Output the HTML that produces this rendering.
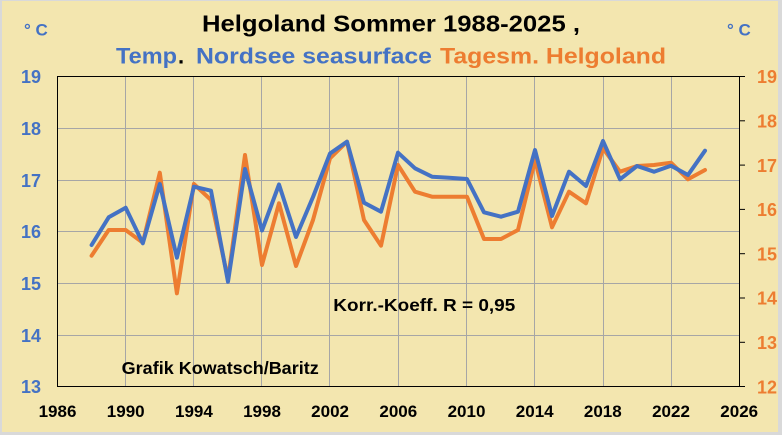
<!DOCTYPE html>
<html>
<head>
<meta charset="utf-8">
<style>
  html,body{margin:0;padding:0;background:#D9D9D9;}
  body{width:782px;height:435px;overflow:hidden;position:relative;}
  svg{position:absolute;left:0;top:0;}
  text{font-family:"Liberation Sans",Arial,sans-serif;font-weight:bold;}
</style>
</head>
<body>
<svg width="782" height="435" viewBox="0 0 782 435" xmlns="http://www.w3.org/2000/svg">
  <rect x="0" y="0" width="782" height="435" fill="#D9D9D9"/>
  <rect x="2" y="1" width="776" height="431" fill="#F3E6AF"/>

  <!-- gridlines -->
  <g stroke="#A6A6A6" stroke-width="1" fill="none">
    <line x1="58" y1="128.5" x2="739" y2="128.5"/>
    <line x1="58" y1="180.5" x2="739" y2="180.5"/>
    <line x1="58" y1="231.5" x2="739" y2="231.5"/>
    <line x1="58" y1="283.5" x2="739" y2="283.5"/>
    <line x1="58" y1="335.5" x2="739" y2="335.5"/>
    <line x1="125.5" y1="77" x2="125.5" y2="386"/>
    <line x1="193.5" y1="77" x2="193.5" y2="386"/>
    <line x1="261.5" y1="77" x2="261.5" y2="386"/>
    <line x1="329.5" y1="77" x2="329.5" y2="386"/>
    <line x1="398.5" y1="77" x2="398.5" y2="386"/>
    <line x1="466.5" y1="77" x2="466.5" y2="386"/>
    <line x1="534.5" y1="77" x2="534.5" y2="386"/>
    <line x1="603.5" y1="77" x2="603.5" y2="386"/>
    <line x1="671.5" y1="77" x2="671.5" y2="386"/>
  </g>

  <!-- plot border / axes -->
  <rect x="57.5" y="76.5" width="682" height="310" fill="none" stroke="#000" stroke-width="1"/>
  <g stroke="#000" stroke-width="1">
    <line x1="739.5" y1="76.5" x2="745" y2="76.5"/>
    <line x1="739.5" y1="120.8" x2="745" y2="120.8"/>
    <line x1="739.5" y1="165.1" x2="745" y2="165.1"/>
    <line x1="739.5" y1="209.4" x2="745" y2="209.4"/>
    <line x1="739.5" y1="253.7" x2="745" y2="253.7"/>
    <line x1="739.5" y1="298" x2="745" y2="298"/>
    <line x1="739.5" y1="342.3" x2="745" y2="342.3"/>
    <line x1="739.5" y1="386.5" x2="745" y2="386.5"/>
  </g>

  <!-- orange series (Helgoland air) -->
  <polyline fill="none" stroke="#ED7D31" stroke-width="4" stroke-linejoin="round" stroke-linecap="round"
    points="91.6,255.7 108.7,230 125.7,230 142.8,242.7 159.8,172.7 176.9,293.3 193.9,184 211,200 228,279 245,155 262,265 279,203.3 296,266 313,220 330,158.3 347,141.7 364,220 381,245.7 398,165 415,191.7 432,196.7 449,196.7 467,196.7 484,239 501,239 518,230 535,160 552,227.3 569,191.7 586,203.3 603,148.3 620,171.7 637,166 654,165 671,162.7 688,179.3 705,170"/>

  <!-- blue series (Nordsee SST) -->
  <polyline fill="none" stroke="#4472C4" stroke-width="4" stroke-linejoin="round" stroke-linecap="round"
    points="91.6,245 108.7,217.3 125.7,207.7 142.8,243.3 159.8,184 176.9,257.7 193.9,186.7 211,190.7 228,281.7 245,169 262,230.5 279,184.5 296,237 313,197 330,153.5 347,141.7 364,202.7 381,211.7 398,152.7 415,168.3 432,176.7 449,177.7 467,179 484,212.3 501,216.7 518,211.7 535,150 552,216 569,171.7 586,186 603,141 620,179.3 637,166 654,171.7 671,165.7 688,175 705,150.7"/>

  <!-- titles -->
  <text x="202" y="31.7" font-size="23" fill="#000" textLength="378" lengthAdjust="spacingAndGlyphs">Helgoland Sommer 1988-2025 ,</text>
  <text x="116" y="63.3" font-size="22" fill="#4472C4" textLength="61" lengthAdjust="spacingAndGlyphs">Temp</text>
  <text x="178" y="63.3" font-size="22" fill="#000">.</text>
  <text x="196" y="63.3" font-size="22" fill="#4472C4" textLength="236" lengthAdjust="spacingAndGlyphs">Nordsee seasurface</text>
  <text x="440" y="63.3" font-size="22" fill="#ED7D31" textLength="226" lengthAdjust="spacingAndGlyphs">Tagesm. Helgoland</text>

  <!-- degree labels -->
  <text x="24" y="35.7" font-size="17" fill="#4472C4">° C</text>
  <text x="727" y="35.7" font-size="17" fill="#4472C4">° C</text>

  <!-- left axis labels -->
  <g font-size="18" fill="#4472C4" text-anchor="end">
    <text x="41" y="83">19</text>
    <text x="41" y="135">18</text>
    <text x="41" y="187">17</text>
    <text x="41" y="238">16</text>
    <text x="41" y="290">15</text>
    <text x="41" y="342">14</text>
    <text x="41" y="393">13</text>
  </g>

  <!-- right axis labels -->
  <g font-size="18" fill="#ED7D31">
    <text x="757" y="83">19</text>
    <text x="757" y="127.5">18</text>
    <text x="757" y="171.8">17</text>
    <text x="757" y="216">16</text>
    <text x="757" y="260.4">15</text>
    <text x="757" y="304.7">14</text>
    <text x="757" y="349">13</text>
    <text x="757" y="393.3">12</text>
  </g>

  <!-- bottom axis labels -->
  <g font-size="17" fill="#000" text-anchor="middle">
    <text x="57.5" y="417">1986</text>
    <text x="125.7" y="417">1990</text>
    <text x="193.9" y="417">1994</text>
    <text x="262" y="417">1998</text>
    <text x="330.1" y="417">2002</text>
    <text x="398.3" y="417">2006</text>
    <text x="466.5" y="417">2010</text>
    <text x="534.7" y="417">2014</text>
    <text x="602.8" y="417">2018</text>
    <text x="671" y="417">2022</text>
    <text x="739.2" y="417">2026</text>
  </g>

  <!-- annotations -->
  <text x="333.3" y="311" font-size="17.5" fill="#000" textLength="182" lengthAdjust="spacingAndGlyphs">Korr.-Koeff. R = 0,95</text>
  <text x="121.7" y="374" font-size="17.5" fill="#000" textLength="197" lengthAdjust="spacingAndGlyphs">Grafik Kowatsch/Baritz</text>
</svg>
</body>
</html>
